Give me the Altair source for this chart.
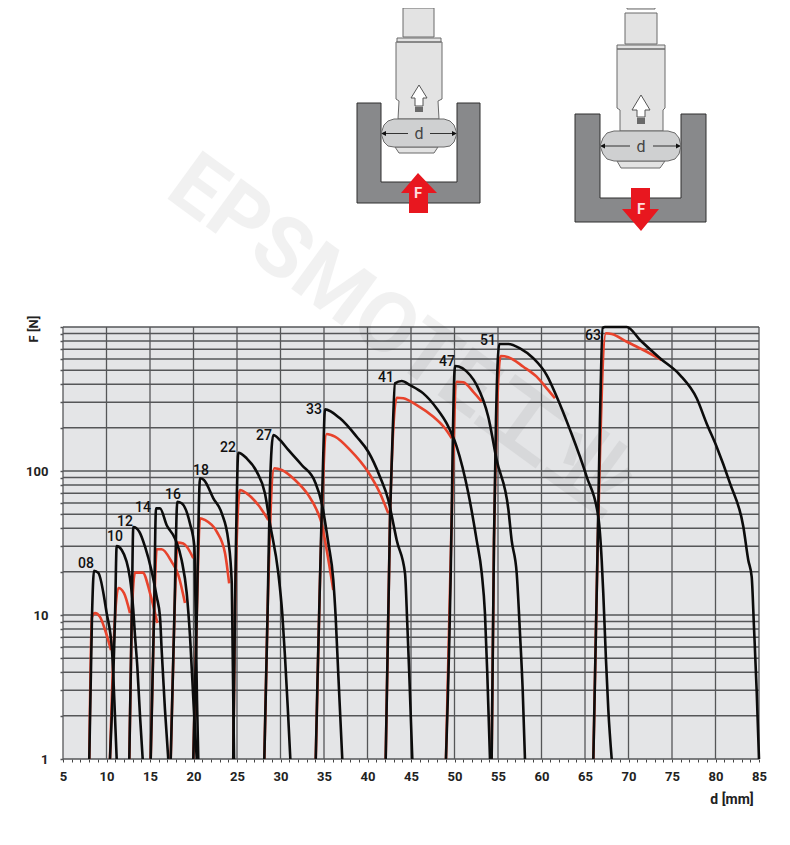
import altair as alt
import pandas as pd

FONT = "Roboto, sans-serif"
BLACK = "#0c0c0c"
RED = "#e8432c"
GRID = "#555658"
PANEL = "#e4e5e7"

x_ticks = list(range(5, 90, 5))
x_minor = list(range(5, 86))
y_ticks = [1, 2, 3, 4, 5, 6, 7, 8, 9, 10, 20, 30, 40, 50, 60, 70, 80, 90, 100,
           200, 300, 400, 500, 600, 700, 800, 900, 1000]

series_names = ["08", "10", "12", "14", "16", "18", "22", "27", "33", "41", "47", "51", "63"]

black_d = {
    "08": [8.02, 8.33, 8.56, 9.06, 10.02, 10.63, 10.9, 11.17],
    "10": [10.4, 10.98, 11.17, 11.75, 12.7, 13.08, 13.28, 13.54, 13.85, 14.16],
    "12": [12.62, 12.9, 13.08, 13.77, 14.43, 15.2, 15.77, 16.15, 16.34, 16.72, 17.1],
    "14": [15.08, 15.46, 15.69, 16.15, 16.92, 17.87, 18.64, 19.22, 19.6, 19.98, 20.37],
    "16": [17.38, 17.8, 18.14, 18.64, 19.6, 20.1, 20.25, 20.4, 20.55],
    "18": [19.98, 20.37, 20.75, 21.2, 22.28, 23.25, 24.0, 24.4, 24.5, 24.66],
    "22": [24.57, 24.77, 24.89, 25.15, 26.11, 27.26, 28.21, 28.79, 29.75, 30.2, 30.52, 30.83, 31.13],
    "27": [28.14, 28.53, 28.79, 29.17, 29.94, 30.9, 32.44, 33.97, 34.74, 35.5, 36.07, 36.34, 36.64, 37.1],
    "33": [34.05, 34.27, 34.54, 34.92, 35.11, 36.84, 38.76, 40.09, 41.44, 42.39, 42.97, 43.36, 44.31, 44.57, 44.8, 45.15],
    "41": [42.09, 42.6, 42.89, 43.16, 43.93, 44.89, 46.41, 47.96, 49.1, 50.25, 51.59, 52.55, 53.13, 53.5, 53.77, 54.08],
    "47": [49.02, 49.67, 49.78, 50.06, 51.78, 52.55, 53.88, 54.85, 56.2, 56.57, 57.15, 57.53, 57.84, 58.1],
    "51": [54.27, 54.54, 54.77, 55.15, 56.19, 57.53, 59.06, 60.6, 61.75, 63.28, 65.2, 66.53, 66.92, 67.1, 67.41, 67.68, 68.07],
    "63": [65.96, 66.42, 66.72, 67.03, 67.3, 69.8, 71.32, 73.62, 75.92, 77.84, 78.98, 80.13, 81.67, 83.2, 83.77, 84.16, 84.42, 84.74, 85.0],
}
black_f = {
    "08": [1, 9.7, 20.3, 19.6, 10.3, 5.7, 2.57, 1],
    "10": [1, 9.7, 30.1, 28.3, 18, 10.8, 7.1, 4.4, 2, 1],
    "12": [1, 9.7, 40.8, 37.9, 29.8, 20, 13.4, 9.7, 5.7, 2.2, 1],
    "14": [1, 9.7, 55, 55, 42, 34, 24, 14.2, 7.1, 2.6, 1],
    "16": [1, 9.7, 61, 59.7, 43, 29.8, 9.7, 2.6, 1],
    "18": [1, 9.7, 89, 86.6, 64.6, 50.8, 33, 16.6, 5.7, 1],
    "22": [1, 11.4, 33, 134, 122.5, 99, 70, 43, 19.5, 10.3, 5.1, 2.3, 1],
    "27": [1, 11.4, 78, 178, 164, 140, 110, 84, 59.7, 31.5, 17.5, 9.7, 3.9, 1],
    "33": [1, 3.9, 17.5, 132, 268, 232, 173, 136, 91, 63, 43, 33, 19.5, 8.8, 3.9, 1],
    "41": [1, 51, 183, 406, 422, 395, 346, 272, 214, 147.6, 70, 33, 19.5, 10.3, 3.9, 1],
    "47": [1, 45.7, 132, 536, 464, 395, 238, 119, 53.6, 33, 19.5, 7.4, 3, 1],
    "51": [1, 33, 226, 762, 762, 711, 607, 464, 328, 193, 91, 48, 24, 14.2, 4.9, 2.2, 1],
    "63": [1, 24, 226, 984, 1000, 1000, 813, 607, 464, 320, 214, 147.6, 82, 41, 24, 18.4, 8.3, 2.9, 1],
}
red_d = {
    "08": [8.02, 8.33, 8.68, 9.25, 9.83, 10.52],
    "10": [10.4, 10.98, 11.36, 12.01, 12.7],
    "12": [12.62, 12.9, 13.28, 14.16, 15.0, 15.84],
    "14": [15.08, 15.46, 15.77, 16.34, 17.49, 18.25, 19.02],
    "16": [17.38, 17.8, 18.18, 18.83, 19.98],
    "18": [19.98, 20.37, 20.75, 21.3, 22.67, 23.62, 24.1],
    "22": [24.57, 24.77, 25.34, 26.11, 27.45, 28.6],
    "27": [28.14, 28.53, 29.29, 30.14, 31.67, 33.2, 34.16, 34.74, 35.31, 36.07],
    "33": [34.05, 34.54, 35.31, 36.26, 37.99, 40.09, 41.44, 42.39],
    "41": [42.09, 42.6, 43.36, 44.11, 45.66, 47.57, 48.9, 49.67],
    "47": [49.02, 49.67, 50.25, 51.01, 52.16, 53.13],
    "51": [54.27, 54.54, 55.31, 56.19, 57.91, 59.44, 60.6, 61.55],
    "63": [65.96, 66.42, 67.41, 68.07, 69.8, 71.7, 73.82],
}
red_f = {
    "08": [1, 9.7, 10.3, 9.7, 7.9, 5.7],
    "10": [1, 9.7, 15.4, 14.2, 10.3],
    "12": [1, 9.7, 19.7, 19.7, 14.2, 8.8],
    "14": [1, 9.7, 28.6, 28.6, 23.4, 19, 12.1],
    "16": [1, 9.7, 31.8, 31.4, 24.8],
    "18": [1, 9.7, 47, 45.7, 37.9, 27, 16.6],
    "22": [1, 11.4, 73.8, 70, 58, 45.7],
    "27": [1, 11.4, 104.5, 101.6, 86.6, 68, 53.6, 43, 28.3, 14.9],
    "33": [1, 17.5, 180.6, 173, 140, 98, 70, 50.8],
    "41": [1, 51, 323, 320, 287, 238, 198, 169],
    "47": [1, 45.7, 417, 413, 355, 303],
    "51": [1, 33, 629, 617, 530, 452, 375, 320],
    "63": [1, 24, 904, 893, 790, 692, 590],
}
label_d = [7.64, 10.98, 12.13, 14.2, 17.64, 20.86, 23.97, 28.1, 33.85, 42.13, 49.14, 53.85, 65.92]
label_f = [22.6, 34.8, 44.2, 55.3, 68, 100, 144.5, 175, 265, 442, 571, 800, 866]

# Schematic outlines, page pixels
U_LEFT = [(357, 103), (381, 103), (381, 182), (457, 182), (457, 103), (480, 103), (480, 203), (357, 203)]
U_RIGHT = [(575, 114), (600, 114), (600, 198), (681, 198), (681, 114), (706, 114), (706, 222), (575, 222)]
BODY_LEFT = [
    [(406, 0), (432, 0), (432, 5), (406, 5)],
    [(403, 8), (434, 8), (434, 37), (403, 37)],
    [(397, 38), (441, 38), (441, 42), (397, 42)],
    [(396, 42), (442, 42), (442, 99), (438, 101), (439, 119), (398, 119), (399, 101), (396, 99)],
    [(395, 147), (438, 147), (434, 153), (399, 153)],
]
BODY_RIGHT = [
    [(627, 0), (655, 0), (655, 9), (627, 9)],
    [(625, 13), (657, 13), (657, 44), (625, 44)],
    [(617, 45), (665, 45), (665, 49), (617, 49)],
    [(617, 49), (665, 49), (665, 108), (663, 110), (663, 131), (620, 131), (620, 110), (617, 108)],
    [(617, 161), (665, 161), (660, 168), (621, 168)],
]
BALL_LEFT = [(394, 119), (388, 121), (384, 125), (381, 133.5), (384, 142), (388, 146), (394, 147),
             (444, 147), (450, 146), (454, 142), (457, 133.5), (454, 125), (450, 121), (444, 119)]
BALL_RIGHT = [(614, 131), (607, 133), (603, 138), (600, 146), (603, 154), (607, 159), (614, 161),
              (668, 161), (675, 159), (679, 154), (681, 146), (679, 138), (675, 133), (668, 131)]
WHITE_ARROWS = [
    [(419, 85), (411, 98), (415, 98), (415, 106), (423, 106), (423, 98), (427, 98)],
    [(641, 95), (632, 110), (637, 110), (637, 117), (645, 117), (645, 110), (650, 110)],
]
DARK_BOXES = [
    [(415, 107), (423, 107), (423, 112), (415, 112)],
    [(637, 118), (645, 118), (645, 124), (637, 124)],
]
RED_ARROWS = [
    [(418, 173), (401, 193), (409, 193), (409, 213), (428, 213), (428, 193), (437, 193)],
    [(631, 188), (650, 188), (650, 209), (659, 209), (641, 231), (622, 209), (631, 209)],
]
D_LINES = [
    [(383, 133.5), (408, 133.5)], [(430, 133.5), (455, 133.5)],
    [(602, 146), (630, 146)], [(653, 146), (679, 146)],
]
D_HEADS = [
    [(381, 133.5), (386, 131), (386, 136)], [(457, 133.5), (452, 131), (452, 136)],
    [(600, 146), (605, 143.5), (605, 148.5)], [(681, 146), (676, 143.5), (676, 148.5)],
]
SCHEMATIC_TEXT = [("d", 419, 134, "#444444", 16), ("d", 641, 147, "#444444", 16),
                  ("F", 418, 193, "#ffdddd", 15), ("F", 641, 209, "#ffdddd", 15)]

OX, OY = 63, 327


def path_of(shapes, close=True):
    parts = []
    for s in shapes:
        pts = " L".join(f"{x - OX},{y - OY}" for x, y in s)
        parts.append("M" + pts + (" Z" if close else ""))
    return " ".join(parts)


def shape(shapes, close=True, **mark):
    # a custom symbol path drawn at size 4 has a scale of exactly one pixel
    return alt.Chart(pd.DataFrame({"k": [0]})).mark_point(
        shape=path_of(shapes, close), size=4, opacity=1, **mark
    ).encode(x=alt.value(0), y=alt.value(0))


rows = []
for kind, ds, fs in (("F2", red_d, red_f), ("F1", black_d, black_f)):
    for s in series_names:
        for i, (a, b) in enumerate(zip(ds[s], fs[s])):
            rows.append({"kind": kind, "series": s, "i": i, "d": a, "F": b})
curves = pd.DataFrame(rows)

x_enc = alt.X("d:Q", scale=alt.Scale(domain=[5, 85], nice=False),
              axis=alt.Axis(values=x_minor, title=None, grid=False, domain=False,
                            labelExpr="datum.value % 5 === 0 ? datum.label : ''",
                            tickSize=3, tickColor="#444444", tickWidth=1,
                            labelFont=FONT, labelFontSize=13, labelFontWeight="bold",
                            labelColor="#222222", labelPadding=8, labelFlush=False,
                            labelOverlap=False, format="d"))
y_enc = alt.Y("F:Q", scale=alt.Scale(type="log", domain=[1, 1000], nice=False),
              axis=alt.Axis(values=y_ticks, title=None, grid=False,
                            domain=False, tickSize=3, tickColor=GRID, tickWidth=1.5,
                            labelExpr="(datum.value === 1 || datum.value === 10 || datum.value === 100) ? datum.value : ''",
                            labelFont=FONT, labelFontSize=13, labelFontWeight="bold",
                            labelColor="#222222", labelPadding=12, labelOverlap=False))

panel = alt.Chart(pd.DataFrame({"k": [0]})).mark_rect(fill=PANEL).encode(
    x=alt.value(0), x2=alt.value(696), y=alt.value(0), y2=alt.value(432))

vgrid = alt.Chart(pd.DataFrame({"d": x_ticks})).mark_rule(color=GRID, strokeWidth=1.3).encode(x=x_enc)
hgrid = alt.Chart(pd.DataFrame({"F": y_ticks})).mark_rule(color=GRID, strokeWidth=1.5).encode(y=y_enc)

red_layer = alt.Chart(curves[curves.kind == "F2"]).mark_line(
    color=RED, strokeWidth=2.6, interpolate="monotone", strokeJoin="round"
).encode(x=x_enc, y=y_enc, detail="series:N", order="i:Q")
black_layer = alt.Chart(curves[curves.kind == "F1"]).mark_line(
    color=BLACK, strokeWidth=2.6, interpolate="monotone", strokeJoin="round"
).encode(x=x_enc, y=y_enc, detail="series:N", order="i:Q")

labels = alt.Chart(pd.DataFrame({"d": label_d, "F": label_f, "t": series_names})).mark_text(
    font=FONT, fontSize=14, fontWeight=500, color="#111111", baseline="middle", align="center"
).encode(x=x_enc, y=y_enc, text="t:N")


def px_text(t, x, y, **mark):
    return alt.Chart(pd.DataFrame({"t": [t]})).mark_text(**mark).encode(
        x=alt.value(x - OX), y=alt.value(y - OY), text="t:N")


layers = [
    panel,
    hgrid,
    vgrid,
    shape([U_LEFT, U_RIGHT], fill="#88898b", stroke="#2f2f2f", strokeWidth=1, filled=True),
    shape(BODY_LEFT + BODY_RIGHT, fill="#e3e3e3", stroke="#6a6a6a", strokeWidth=1, filled=True),
    shape([BALL_LEFT, BALL_RIGHT], fill="#cfd0d1", stroke="#6a6a6a", strokeWidth=1, filled=True),
    shape(WHITE_ARROWS, fill="#ffffff", stroke="#555555", strokeWidth=1, filled=True),
    shape(DARK_BOXES, fill="#6a6a6a", filled=True),
    shape(D_LINES, close=False, stroke="#333333", strokeWidth=1, filled=False),
    shape(D_HEADS, fill="#111111", filled=True),
    shape(RED_ARROWS, fill="#e8171f", filled=True),
]
for t, x, y, c, s in SCHEMATIC_TEXT:
    layers.append(px_text(t, x, y, font="Roboto", fontSize=s, color=c, align="center",
                          baseline="middle", fontWeight="bold" if t == "F" else "normal"))
layers += [
    px_text("EPSMOTE工业", 400, 337, font="Roboto, Noto Sans CJK SC", fontSize=84, fontWeight="bold",
            color="#000000", opacity=0.05, angle=36, align="center", baseline="middle"),
    red_layer,
    black_layer,
    labels,
    px_text("d [mm]", 732, 800, font=FONT, fontSize=14, fontWeight="bold", color="#222222",
            align="center", baseline="middle"),
    px_text("F [N]", 34, 329, font=FONT, fontSize=13, fontWeight="bold", color="#222222",
            align="center", baseline="middle", angle=270),
]

chart = alt.layer(*layers).resolve_scale(x="shared", y="shared").properties(
    width=696, height=432,
    padding={"left": 55, "top": 319, "right": 20, "bottom": 70},
    autosize=alt.AutoSizeParams(type="none"),
    background="#ffffff",
).configure_view(stroke=None)

chart.save("out.html", embed_options={"renderer": "svg", "actions": False})
